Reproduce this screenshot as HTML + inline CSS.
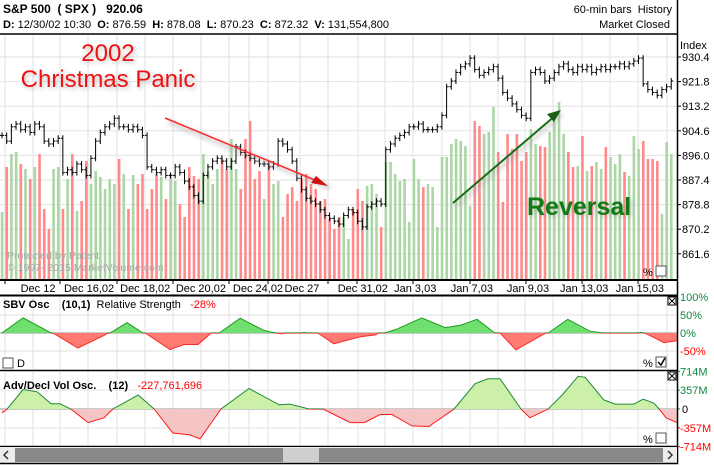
<!DOCTYPE html>
<html><head><meta charset="utf-8">
<style>
html,body{margin:0;padding:0;background:#fff;}
body{width:714px;height:466px;overflow:hidden;font-family:"Liberation Sans",Arial,sans-serif;}
svg{display:block;}
text{font-family:"Liberation Sans",Arial,sans-serif;white-space:pre;}
</style></head>
<body>
<svg id="chart" width="714" height="466" viewBox="0 0 714 466" xmlns="http://www.w3.org/2000/svg">
  <g id="grid"></g>
  <g id="volume"></g>
  <g id="price"></g>
  <g id="sbv"></g>
  <g id="adv"></g>
  <g id="axes"></g>
</svg>
<script>
// ---------- data ----------
const priceTicks = [930.4, 921.8, 913.2, 904.6, 896.0, 887.4, 878.8, 870.2, 861.6];
const dateLabels = ["Dec 12","Dec 16,02","Dec 18,02","Dec 20,02","Dec 24,02","Dec 27","Dec 31,02","Jan 3,03","Jan 7,03","Jan 9,03","Jan 13,03","Jan 15,03"];
const dateBars = [7.7, 18.6, 30.6, 42.5, 54.7, 64.1, 77.1, 88.3, 100.4, 112.4, 124.4, 136.3];
const closes = [903,901,906,907,905,906,904,907,906,901,
900,901,902,890,891,890,893,891,889,895,
901,904,906,907,909,906,906,905,906,905,
903,892,891,890,891,889,889,892,890,887,
885,882,880,889,892,894,895,894,892,894,
899,897,896,895,894,893,893,892,893,901,
900,898,894,888,884,881,880,879,877,875,
874,873,872,875,877,876,873,871,878,879,
880,879,898,900,902,903,904,906,906,907,
905,905,905,906,910,920,922,925,927,928,
930,926,924,925,926,927,923,918,916,914,
912,910,909,925,926,925,922,923,925,927,
928,926,925,927,926,927,925,926,927,926,
927,927,928,927,928,929,930,921,919,918,
917,919,920,922];
const volumes = [67,112,125,127,115,110,100,112,125,70,
50,110,112,70,100,125,68,78,118,95,
108,102,90,100,95,120,105,70,104,95,
105,70,90,105,102,80,105,98,75,62,
112,103,100,125,108,95,110,120,110,140,
110,90,140,158,100,108,80,115,95,98,
62,85,92,78,100,105,95,90,78,80,
60,50,62,62,40,70,90,78,93,95,
85,52,117,117,105,98,100,57,120,100,
92,95,92,52,122,122,135,140,138,133,
73,158,153,145,147,172,127,77,145,130,
145,118,127,150,135,133,132,147,158,177,
145,127,112,113,143,108,113,117,110,132,
122,115,125,107,103,143,130,138,120,120,
118,65,137,125];
const sbvT = [0,4.5,10.5,10.9,16.2,21.8,22.6,23.1,26.7,30.1,30.6,35.9,38.9,41.9,44.7,46.4,50.9,55.8,57.7,58.5,60,60.5,61,64,64.5,65,67.5,70.9,76.3,79.9,80.3,81.8,84.2,89.7,94.7,98.1,101.5,105.3,106.4,109.8,116.2,116.7,120.9,125.6,128.6,136,136.5,137,137.4,141.5,144.2];
const sbvV = [0,42,0,0,-42,-7,0,0,29,0,0,-46,-32,-32,0,0,41,8,2,0,-2,0,0,0,2,0,0,-30,-11,-5,0,0,10,42,15,22,38,0,0,-47,0,0,38,5,0,0,2,0,0,-27,-21];
const sbvTicks = [100,50,0,-50];
const advT = [0,1.1,4.5,7.5,10.5,12.4,14.7,18.4,21.8,23.7,29.1,32.5,36.5,40,42.3,46.8,52.8,59.2,61.5,65.6,68.6,74.4,77.4,80.8,83.3,87.6,91.2,96.6,101.1,103.8,106.4,110.9,112.8,116.7,119.7,123.1,124.6,128.6,131,135,137,139.3,140.4,141.9,144.2];
const advV = [-74,0,370,326,98,98,0,-258,-166,0,265,0,-455,-486,-566,0,388,80,92,0,0,-258,-258,-105,-105,-320,-332,0,480,572,572,0,-166,0,265,620,600,172,92,92,185,110,0,-166,-258];
const advTicks = [714,357,0,-357,-714];
const advTickLabels = ["714M","357M","0","-357M","-714M"];

// ---------- scales ----------
const NS = "http://www.w3.org/2000/svg";
const xOf = i => 2 + i * 4.68;
const yPrice = p => 57 + (930.4 - p) * 2.8605;
const VOL_BASE = 279;
const ySbv = v => 333 - v * 0.36;
const yAdv = v => 409 - v * 0.0528;
function el(tag, attrs, parent, txt){
  const e = document.createElementNS(NS, tag);
  for (const k in attrs) e.setAttribute(k, attrs[k]);
  if (txt !== undefined) e.textContent = txt;
  parent.appendChild(e);
  return e;
}
const grid = document.getElementById('grid');
const axes = document.getElementById('axes');

// ---------- grid ----------
const gridX = [5,33,60,88,117,145,173,201,229,249,268,300,328,358,385,413,442,470,498,525,553,582,610,638,667];
gridX.forEach(x => {
  const l = el('line', {x1:x, x2:x, y1:35, y2:279, stroke:'#e2e2e2', 'stroke-width':1}, grid);
  
  
  el('line', {x1:x, x2:x, y1:297, y2:369, stroke:'#e2e2e2', 'stroke-width':1}, grid);
  el('line', {x1:x, x2:x, y1:372, y2:446, stroke:'#e2e2e2', 'stroke-width':1}, grid);
});
priceTicks.forEach(p => {
  const l = el('line', {x1:0, x2:677, y1:yPrice(p), y2:yPrice(p), stroke:'#e2e2e2'}, grid);
  
  
});
[50,-50].forEach(v => el('line', {x1:0,x2:677,y1:ySbv(v),y2:ySbv(v),stroke:'#e2e2e2'}, grid));
[357,-357].forEach(v => el('line', {x1:0,x2:677,y1:yAdv(v),y2:yAdv(v),stroke:'#e2e2e2'}, grid));

// ---------- volume ----------
const volG = document.getElementById('volume');
volumes.forEach((v, i) => {
  const up = i === 0 ? true : closes[i] >= closes[i-1];
  const r = el('rect', {x:xOf(i)-1.2, y:VOL_BASE - v, width:2.6, height:v, fill: up ? '#acd6a6' : '#ff8a8a'}, volG);
  
  
});

// ---------- price bars ----------
const priceG = document.getElementById('price');
closes.forEach((c, i) => {
  const o = i === 0 ? c : closes[i-1];
  const x = xOf(i);
  const yo = yPrice(o), yc = yPrice(c);
  const top = Math.min(yo, yc) - 3, bot = Math.max(yo, yc) + 3;
  const g = el('g', {stroke:'#000', 'stroke-width':1}, priceG);
  
  
  el('line', {x1:x, x2:x, y1:top, y2:bot}, g);
  el('line', {x1:x-2, x2:x, y1:yo, y2:yo}, g);
  el('line', {x1:x, x2:x+2, y1:yc, y2:yc}, g);
});

// ---------- oscillators ----------
function osc(gid, T, V, yf, y0, top, bottom, posFill, negFill, posLine, negLine){
  const g = document.getElementById(gid);
  const idp = gid + 'pos', idn = gid + 'neg';
  const defs = el('defs', {}, g);
  const cp = el('clipPath', {id:idp}, defs); el('rect', {x:0, y:top, width:677, height:y0-top}, cp);
  const cn = el('clipPath', {id:idn}, defs); el('rect', {x:0, y:y0, width:677, height:bottom-y0}, cn);
  let pts = T.map((t, k) => xOf(t).toFixed(1) + ',' + yf(V[k]).toFixed(1));
  const area = 'M' + xOf(T[0]) + ',' + y0 + ' L' + pts.join(' L') + ' L' + xOf(T[T.length-1]) + ',' + y0 + ' Z';
  const line = 'M' + pts.join(' L');
  el('line', {x1:0, x2:677, y1:y0, y2:y0, stroke:'#b8b8b8', 'stroke-width':1.5}, g);
  const pa = el('path', {d:area, fill:posFill, 'clip-path':'url(#'+idp+')'}, g);
  
  
  const na = el('path', {d:area, fill:negFill, 'clip-path':'url(#'+idn+')'}, g);
  
  
  el('path', {d:line, fill:'none', stroke:posLine, 'stroke-width':1, 'clip-path':'url(#'+idp+')'}, g);
  el('path', {d:line, fill:'none', stroke:negLine, 'stroke-width':1, 'clip-path':'url(#'+idn+')'}, g);
}
osc('sbv', sbvT, sbvV, ySbv, 333, 296, 369, '#6fe06f', '#ff7a72', '#1f9a1f', '#ff2a2a');
osc('adv', advT, advV, yAdv, 409, 372, 446, '#ccf0a8', '#f5c4c4', '#1f8a3a', '#ff1a1a');

// ---------- axes / labels ----------
priceTicks.forEach(p => {
  el('line', {x1:677, x2:681, y1:yPrice(p), y2:yPrice(p), stroke:'#000'}, axes);
  const t = el('text', {x:682, y:yPrice(p)+4, 'font-size':11, fill:'#000'}, axes, p.toFixed(1));
  
  
});
sbvTicks.forEach(v => {
  const t = el('text', {x:680, y:ySbv(v)+4, 'font-size':11, fill: v < 0 ? '#ff0000' : '#108a40'}, axes, v + '%');
  
  
});
advTicks.forEach((v, k) => {
  const t = el('text', {x: v === 0 ? 682 : 680, y:yAdv(v)+4, 'font-size':11, fill: v < 0 ? '#ff0000' : (v > 0 ? '#108a40' : '#000')}, axes, advTickLabels[k]);
  
  
  el('line', {x1:677, x2:680, y1:yAdv(v), y2:yAdv(v), stroke: v < 0 ? '#ff0000' : '#108a40'}, axes);
});
dateLabels.forEach((d, k) => {
  const t = el('text', {x:xOf(dateBars[k]), y:292, 'font-size':11, 'text-anchor':'middle', fill:'#000'}, axes, d);
  
  
});
[5,60,117,173,229,268,328,357,413,470,526,582,638].forEach(x => el('line', {x1:x,x2:x,y1:279,y2:284,stroke:'#000'}, axes));
</script>

<!-- static frame overlay -->
<svg style="position:absolute;left:0;top:0" width="714" height="466" viewBox="0 0 714 466">
  <defs>
    <filter id="sh" x="-20%" y="-20%" width="140%" height="140%"><feGaussianBlur stdDeviation="2"/></filter>
  </defs>
  <g>
    <text x="3" y="13" font-size="12" font-weight="bold">S&amp;P 500  ( SPX )   920.06</text>
    <text x="3" y="28" font-size="11"><tspan font-weight="bold">D:</tspan> 12/30/02 10:30  <tspan font-weight="bold">O:</tspan> 876.59  <tspan font-weight="bold">H:</tspan> 878.08  <tspan font-weight="bold">L:</tspan> 870.23  <tspan font-weight="bold">C:</tspan> 872.32  <tspan font-weight="bold">V:</tspan> 131,554,800</text>
    <text x="672" y="13" font-size="11" text-anchor="end">60-min bars  History</text>
    <text x="670" y="28" font-size="11" text-anchor="end">Market Closed</text>
    <text x="680" y="49" font-size="11">Index</text>
  </g>
  <line x1="0" y1="34" x2="678" y2="34" stroke="#000" stroke-width="1.5"/>
  <line x1="677.5" y1="0" x2="677.5" y2="464" stroke="#000" stroke-width="1.5"/>
  <line x1="0" y1="280" x2="678" y2="280" stroke="#000" stroke-width="2"/>
  <line x1="0" y1="295.5" x2="678" y2="295.5" stroke="#000" stroke-width="2"/>
  <line x1="0" y1="370.5" x2="678" y2="370.5" stroke="#000" stroke-width="1.5"/>
  <line x1="0" y1="446.5" x2="678" y2="446.5" stroke="#000" stroke-width="1.5"/>

  <text x="7" y="259" font-size="10.5" fill="#a8a8a8">Protected by Patent</text>
  <text x="7" y="271" font-size="10.5" fill="#a8a8a8">© 1997- 2015 MarketVolume.com</text>

  <g>
    <text x="110" y="63" font-size="24" text-anchor="middle" fill="#999" opacity="0.6" filter="url(#sh)">2002</text>
    <text x="110" y="89" font-size="24" text-anchor="middle" fill="#999" opacity="0.6" filter="url(#sh)">Christmas Panic</text>
    <text x="108" y="61" font-size="24" text-anchor="middle" fill="#ee1111">2002</text>
    <text x="108" y="87" font-size="24" text-anchor="middle" fill="#ee1111">Christmas Panic</text>
  </g>
  <g>
    <line x1="168" y1="122" x2="330" y2="188" stroke="#999" stroke-width="5" opacity="0.35" filter="url(#sh)"/>
    <line x1="165" y1="118" x2="322" y2="183" stroke="#ff2a2a" stroke-width="1.5"/>
    <polygon points="328,186 311,183 316,176" fill="#d01010"/>
  </g>
  <g>
    <text x="529" y="217" font-size="25" font-weight="bold" fill="#999" opacity="0.5" filter="url(#sh)">Reversal</text>
    <text x="527" y="215" font-size="25" font-weight="bold" fill="#117a11">Reversal</text>
  </g>
  <g>
    <line x1="456" y1="206" x2="562" y2="114" stroke="#999" stroke-width="5" opacity="0.3" filter="url(#sh)"/>
    <line x1="453" y1="203" x2="556" y2="115" stroke="#1a6e1a" stroke-width="2"/>
    <polygon points="561,110 547,114 554,122" fill="#1a5e1a"/>
  </g>

  <text x="3" y="308" font-size="11"><tspan font-weight="bold">SBV Osc    (10,1)</tspan>  Relative Strength   <tspan fill="#ff0000">-28%</tspan></text>
  <text x="3" y="389" font-size="11"><tspan font-weight="bold">Adv/Decl Vol Osc.    (12)</tspan>   <tspan fill="#ff0000">-227,761,696</tspan></text>

  <text x="643" y="276" font-size="11">%</text>
  <rect x="656" y="266" width="10" height="10" fill="#fff" stroke="#555"/>
  <rect x="3" y="358" width="10" height="10" fill="#fff" stroke="#555"/>
  <text x="17" y="367" font-size="11">D</text>
  <text x="643" y="367" font-size="11">%</text>
  <rect x="656" y="357" width="10" height="10" fill="#fff" stroke="#555"/>
  <path d="M658,362 L661,365 L665,358" fill="none" stroke="#000" stroke-width="1.5"/>
  <text x="643" y="443" font-size="11">%</text>
  <rect x="656" y="433" width="10" height="10" fill="#fff" stroke="#555"/>
  <g>
    <rect x="668" y="297" width="8" height="8" fill="#fff" stroke="#000"/>
    <path d="M669,298 L675,304 M675,298 L669,304" stroke="#000"/>
  </g>
  <g>
    <rect x="668" y="372" width="8" height="8" fill="#fff" stroke="#000"/>
    <path d="M669,373 L675,379 M675,373 L669,379" stroke="#000"/>
  </g>

  <g>
    <rect x="0" y="447" width="677" height="16" fill="#ececec"/>
    <rect x="15" y="448" width="648" height="14" fill="#888"/>
    <rect x="283" y="448" width="36" height="14" fill="#cfcfcf"/>
    <path d="M8,451 L4,455 L8,459" fill="none" stroke="#333" stroke-width="1.5"/>
    <path d="M668,451 L672,455 L668,459" fill="none" stroke="#333" stroke-width="1.5"/>
  </g>
  <line x1="0" y1="463.5" x2="678" y2="463.5" stroke="#000" stroke-width="1.5"/>
</svg>
</body></html>
